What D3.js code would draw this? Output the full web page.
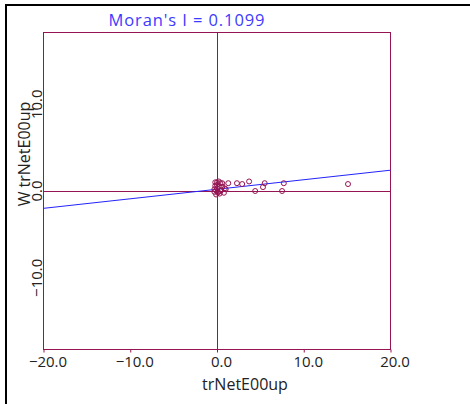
<!DOCTYPE html>
<html>
<head>
<meta charset="utf-8">
<script src="https://cdn.jsdelivr.net/npm/d3@7"></script>
<style>
  body { margin: 0; background: #fff; }
  svg { display: block; font-family: 'Open Sans', 'Noto Sans', sans-serif; }
</style>
</head>
<body>
<div id="chart"></div>
<script>
// values
const xVals = [15.1, 7.7, 7.5, 5.5, 5.3, 4.4, 3.7, 2.9, 2.3, 1.3, 0.6,
  0.9, 0.4, 0.2, 0.0, -0.2, -0.3, 0.1, 0.3, -0.1, 0.5, 0.2, -0.3, 0.0, 0.4, -0.2, 0.1, 0.6, 0.0, -0.1, 1.0, 0.8];
const yVals = [0.8, 0.9, 0.0, 0.9, 0.45, 0.0, 1.1, 0.8, 0.9, 0.9, 0.9,
  0.3, 0.9, 1.1, 1.0, 0.6, 0.2, -0.1, -0.3, -0.4, 0.1, 0.5, -0.1, 0.3, 0.0, 1.0, -0.2, 0.5, 0.7, 0.1, 0.2, -0.2];
const xTicks = [-20, -10, 0, 10, 20];
const yTicks = [-10, 0, 10];
const moranI = 0.1099;
const intercept = 0.2;
const lineX = [-20, 20];

const config = {
  width: 470, height: 404,
  plot: { left: 43.5, top: 32.5, right: 390.5, bottom: 349.5 }
};
const frameColor = '#961452';
const textColor = '#222';

const svg = d3.select('#chart').append('svg')
  .attr('width', config.width)
  .attr('height', config.height);

// outer black frame (top and left only visible)
svg.append('line').attr('x1', 5).attr('x2', 470).attr('y1', 5).attr('y2', 5)
  .attr('stroke', '#000').attr('stroke-width', 2);
svg.append('line').attr('x1', 6).attr('x2', 6).attr('y1', 4).attr('y2', 404)
  .attr('stroke', '#000').attr('stroke-width', 2);

const p = config.plot;
const xScale = d3.scaleLinear().domain([-20, 20]).range([p.left, p.right]);
const yHalf = 20 * (p.bottom - p.top) / (p.right - p.left);
const yScale = d3.scaleLinear().domain([-yHalf, yHalf]).range([p.bottom, p.top]);

// plot box
svg.append('rect')
  .attr('x', p.left).attr('y', p.top)
  .attr('width', p.right - p.left).attr('height', p.bottom - p.top)
  .attr('fill', 'none').attr('stroke', frameColor).attr('stroke-width', 1);

// zero lines
svg.append('line')
  .attr('x1', Math.round(xScale(0)) + 0.5).attr('x2', Math.round(xScale(0)) + 0.5)
  .attr('y1', p.top).attr('y2', p.bottom)
  .attr('stroke', frameColor);
svg.append('line')
  .attr('x1', p.left).attr('x2', p.right)
  .attr('y1', Math.round(yScale(0)) + 0.5).attr('y2', Math.round(yScale(0)) + 0.5)
  .attr('stroke', frameColor);

// x axis
const xAxis = d3.axisBottom(xScale)
  .tickValues(xTicks)
  .tickSize(3)
  .tickFormat(d3.format('.1f'));
const gx = svg.append('g')
  .attr('transform', `translate(0,${p.bottom})`)
  .call(xAxis);
gx.select('.domain').remove();
gx.selectAll('.tick line').attr('stroke', frameColor);
gx.selectAll('.tick text')
  .attr('y', 7)
  .attr('dx', 4)
  .attr('fill', textColor)
  .style('font-size', '15px')
  .style('font-family', "'Open Sans', sans-serif");

// y axis: rotated labels, no tick marks
const gy = svg.append('g');
gy.selectAll('text')
  .data(yTicks)
  .enter()
  .append('text')
  .attr('transform', d => `translate(${p.left - 2},${yScale(d)}) rotate(-90)`)
  .attr('text-anchor', 'middle')
  .attr('fill', textColor)
  .style('font-size', '15px')
  .text(d => d3.format('.1f')(d));

// axis titles
svg.append('text')
  .attr('x', 245).attr('y', 390)
  .attr('text-anchor', 'middle')
  .attr('fill', textColor)
  .style('font-size', '16px')
  .text('trNetE00up');

svg.append('text')
  .attr('transform', 'translate(30,154) rotate(-90)')
  .attr('text-anchor', 'middle')
  .attr('fill', textColor)
  .style('font-size', '16px')
  .text('W trNetE00up');

svg.append('text')
  .attr('x', 187).attr('y', 26)
  .attr('text-anchor', 'middle')
  .attr('fill', '#3b3bff')
  .style('font-size', '16.5px')
  .style('letter-spacing', '0.9px')
  .text(`Moran's I = ${moranI}`);

// regression line
svg.append('line')
  .attr('x1', xScale(lineX[0])).attr('y1', yScale(intercept + moranI * lineX[0]))
  .attr('x2', xScale(lineX[1])).attr('y2', yScale(intercept + moranI * lineX[1]))
  .attr('stroke', '#2323ff').attr('stroke-width', 1);

// points
svg.append('g').selectAll('circle')
  .data(d3.range(xVals.length))
  .enter()
  .append('circle')
  .attr('cx', i => xScale(xVals[i]))
  .attr('cy', i => yScale(yVals[i]))
  .attr('r', 2.5)
  .attr('fill', 'none')
  .attr('stroke', frameColor)
  .attr('stroke-width', 1);
</script>
</body>
</html>
